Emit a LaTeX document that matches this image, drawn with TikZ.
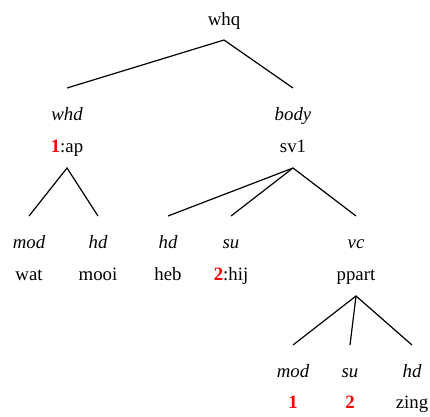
\documentclass[tikz,border=0pt]{standalone}
\usepackage{fontspec}
\setmainfont{Liberation Serif}
\begin{document}
\begin{tikzpicture}[x=1pt,y=-1pt,
  lbl/.style={anchor=base,inner sep=0pt,font=\fontsize{18.8}{22}\selectfont},
  rel/.style={lbl,font=\fontsize{18.8}{22}\selectfont\itshape},
  idx/.style={text=red,font=\fontsize{18.8}{22}\selectfont\bfseries},
  edge/.style={line width=1.2pt}]
\useasboundingbox (0,0) rectangle (430,416);
\node[lbl] (whq) at (224,25) {whq};
\node[rel] (whd) at (67,120) {whd};
\node[lbl] (ap) at (67,152) {\textcolor{red}{\bfseries 1}:ap};
\node[rel] (body) at (293,120) {body};
\node[lbl] (sv1) at (293,152) {sv1};
\node[rel] (mod1) at (29,248) {mod};
\node[lbl] (wat) at (29,280) {wat};
\node[rel] (hd1) at (98,248) {hd};
\node[lbl] (mooi) at (98,280) {mooi};
\node[rel] (hd2) at (168,248) {hd};
\node[lbl] (heb) at (168,280) {heb};
\node[rel] (su1) at (231,248) {su};
\node[lbl] (hij) at (231,280) {\textcolor{red}{\bfseries 2}:hij};
\node[rel] (vc) at (356,248) {vc};
\node[lbl] (ppart) at (356,280) {ppart};
\node[rel] (mod2) at (293,377) {mod};
\node[lbl,idx] (one) at (293,408) {1};
\node[rel] (su2) at (350,377) {su};
\node[lbl,idx] (two) at (350,408) {2};
\node[rel] (hd3) at (412,377) {hd};
\node[lbl] (zing) at (412,408) {zing};
\draw[edge] ([yshift=32pt]whd.base) -- ([yshift=-15pt]whq.base) -- ([yshift=32pt]body.base);
\draw[edge] ([yshift=32pt]mod1.base) -- ([yshift=-16pt]ap.base) -- ([yshift=32pt]hd1.base);
\draw[edge] ([yshift=32pt]hd2.base) -- ([yshift=-16pt]sv1.base) -- ([yshift=32pt]vc.base);
\draw[edge] ([yshift=-16pt]sv1.base) -- ([yshift=32pt]su1.base);
\draw[edge] ([yshift=32pt]mod2.base) -- ([yshift=-16pt]ppart.base) -- ([yshift=32pt]hd3.base);
\draw[edge] ([yshift=-16pt]ppart.base) -- ([yshift=32pt]su2.base);
\end{tikzpicture}
\end{document}
